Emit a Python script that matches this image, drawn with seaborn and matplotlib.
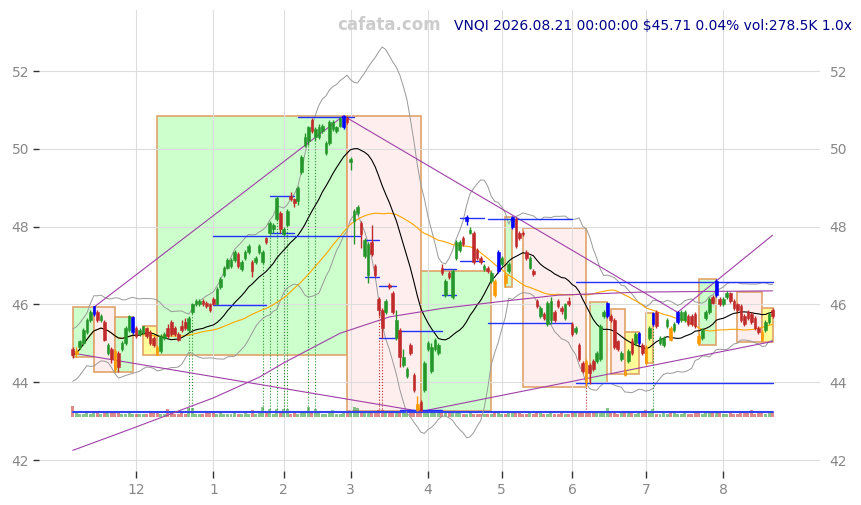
import matplotlib
matplotlib.use("Agg")
import matplotlib.pyplot as plt
from matplotlib.patches import Rectangle
import seaborn as sns
import numpy as np
import pandas as pd

# daily bars, VNQI, Nov 2025 - Aug 21 2026 (bar index = trading day)
opens = [44.85, 44.72, 44.90, 45.00, 45.30, 45.60, 45.75, 45.80, 45.60, 45.55,
         44.75, 44.85, 44.80, 44.75, 44.85, 45.00, 45.35, 45.30, 45.40, 45.25,
         45.30, 45.40, 45.30, 45.15, 44.90, 44.80, 45.15, 45.40, 45.55, 45.40,
         45.25, 45.45, 45.55, 45.35, 45.80, 46.00, 46.00, 46.10, 46.05, 46.00,
         46.15, 46.00, 46.45, 46.75, 46.95, 47.00, 47.15, 47.30, 46.90, 47.20,
         47.35, 47.10, 47.10, 47.35, 47.10, 47.72, 47.85, 47.95, 48.20, 48.35,
         47.80, 48.05, 48.80, 48.70, 48.65, 49.40, 50.10, 50.20, 50.75, 50.30,
         50.30, 50.45, 49.90, 50.15, 50.50, 50.45, 50.60, 50.55, 50.80, 49.65,
         48.15, 48.35, 48.10, 47.25, 46.75, 47.60, 47.00, 46.15, 45.85, 45.80,
         46.50, 46.30, 45.15, 45.35, 44.45, 44.15, 44.95, 44.20, 43.45, 43.50,
         43.80, 44.85, 44.30, 44.85, 44.75, 46.95, 46.25, 46.80, 46.20, 47.20,
         47.40, 47.70, 48.15, 47.85, 47.85, 47.40, 47.20, 46.90, 46.95, 46.60,
         46.60, 46.85, 47.05, 46.75, 46.85, 48.00, 48.20, 47.85, 47.85, 47.35,
         46.95, 46.85, 46.10, 45.70, 45.75, 45.50, 45.60, 45.80, 46.10, 45.90,
         45.65, 46.10, 45.50, 45.30, 44.95, 44.50, 44.55, 44.45, 44.55, 44.55,
         44.60, 45.70, 45.70, 45.70, 45.60, 45.05, 44.60, 44.30, 44.55, 45.05,
         45.00, 45.00, 44.95, 44.90, 45.15, 45.50, 45.80, 45.00, 44.95, 45.45,
         45.40, 45.35, 45.55, 45.60, 45.60, 45.70, 45.70, 45.75, 45.20, 45.15,
         45.65, 45.80, 46.20, 46.25, 46.15, 46.00, 46.20, 46.30, 46.10, 46.00,
         45.95, 45.70, 45.80, 45.75, 45.65, 45.40, 45.30, 45.35, 45.55, 45.85]
closes = [44.70, 44.80, 45.05, 45.35, 45.60, 45.80, 45.95, 45.60, 45.70, 45.10,
          44.95, 44.60, 44.35, 44.40, 45.00, 45.40, 45.70, 45.68, 45.20, 45.35,
          45.45, 45.20, 45.00, 44.95, 44.70, 45.20, 45.25, 45.20, 45.25, 45.25,
          45.10, 45.35, 45.40, 45.65, 46.00, 46.10, 46.10, 46.00, 45.95, 45.85,
          46.00, 46.40, 46.65, 46.95, 47.15, 47.15, 47.35, 47.00, 47.10, 47.35,
          47.50, 46.85, 47.20, 47.50, 47.35, 47.60, 48.10, 48.05, 48.75, 47.95,
          47.95, 48.40, 48.70, 48.60, 49.00, 49.80, 50.30, 50.55, 50.45, 50.50,
          50.55, 50.60, 50.15, 50.70, 50.70, 50.55, 50.80, 50.85, 50.70, 49.75,
          48.40, 48.50, 47.80, 47.65, 47.55, 47.30, 46.75, 45.85, 45.40, 46.10,
          46.45, 45.80, 45.60, 44.65, 44.65, 44.35, 44.75, 43.80, 43.30, 43.30,
          44.50, 45.00, 44.90, 45.10, 44.95, 46.80, 46.60, 46.70, 46.85, 47.60,
          47.60, 47.55, 48.25, 47.92, 47.10, 47.20, 47.10, 47.00, 46.85, 46.80,
          46.25, 47.35, 47.20, 46.55, 47.05, 48.25, 47.50, 47.70, 47.80, 47.20,
          47.20, 46.78, 45.95, 45.90, 45.65, 46.05, 46.10, 45.60, 45.95, 45.82,
          46.00, 46.00, 45.25, 45.40, 44.60, 44.30, 44.00, 44.25, 44.35, 44.75,
          45.45, 45.80, 46.05, 45.60, 44.90, 44.85, 44.75, 44.20, 44.80, 44.75,
          45.25, 45.27, 44.75, 44.50, 45.40, 45.78, 45.45, 45.15, 45.15, 45.60,
          45.10, 45.50, 45.80, 45.80, 45.80, 45.50, 45.50, 45.45, 45.00, 45.35,
          45.80, 46.15, 46.05, 46.60, 46.00, 46.15, 46.30, 46.10, 45.90, 45.85,
          45.60, 45.50, 45.65, 45.55, 45.40, 45.30, 45.10, 45.55, 45.75, 45.71]
highs = [44.92, 44.90, 45.10, 45.40, 45.65, 45.85, 45.95, 45.85, 45.75, 45.60,
         45.00, 44.90, 44.85, 44.80, 45.05, 45.45, 45.72, 45.70, 45.45, 45.40,
         45.45, 45.42, 45.35, 45.20, 44.95, 45.25, 45.30, 45.50, 45.60, 45.45,
         45.30, 45.60, 45.65, 45.70, 46.05, 46.15, 46.15, 46.15, 46.10, 46.05,
         46.20, 46.45, 46.70, 47.00, 47.20, 47.20, 47.40, 47.35, 47.15, 47.40,
         47.55, 47.15, 47.25, 47.55, 47.40, 47.73, 48.15, 48.10, 48.78, 48.40,
         48.00, 48.45, 48.90, 48.75, 49.05, 49.85, 50.40, 50.60, 50.80, 50.55,
         50.65, 50.65, 50.20, 50.75, 50.75, 50.60, 50.82, 50.88, 50.85, 49.80,
         48.45, 48.55, 48.15, 47.70, 47.60, 48.05, 47.05, 46.20, 45.90, 46.15,
         46.55, 46.35, 45.85, 45.40, 44.85, 44.40, 45.00, 44.25, 43.65, 43.55,
         44.55, 45.05, 45.00, 45.15, 45.00, 47.05, 46.65, 46.85, 46.90, 47.65,
         47.65, 47.75, 48.30, 48.00, 47.90, 47.45, 47.25, 47.05, 47.00, 46.85,
         46.65, 47.40, 47.25, 46.80, 47.10, 48.28, 48.25, 47.90, 47.90, 47.40,
         47.25, 46.90, 46.15, 45.95, 45.80, 46.10, 46.20, 45.85, 46.15, 45.95,
         46.05, 46.20, 45.55, 45.45, 45.00, 44.55, 44.60, 44.50, 44.60, 44.80,
         45.50, 45.85, 46.06, 45.75, 45.65, 45.10, 44.80, 44.35, 44.85, 45.15,
         45.30, 45.29, 45.00, 44.95, 45.45, 45.80, 45.85, 45.20, 45.20, 45.65,
         45.45, 45.55, 45.82, 45.85, 45.85, 45.75, 45.75, 45.80, 45.25, 45.40,
         45.85, 46.20, 46.25, 46.65, 46.20, 46.20, 46.35, 46.32, 46.15, 46.05,
         46.00, 45.75, 45.85, 45.80, 45.70, 45.45, 45.35, 45.60, 45.80, 45.90]
lows = [44.62, 44.65, 44.85, 44.95, 45.25, 45.55, 45.70, 45.55, 45.55, 45.05,
        44.70, 44.50, 44.27, 44.27, 44.80, 44.95, 45.30, 45.25, 45.15, 45.20,
        45.25, 45.15, 44.95, 44.90, 44.70, 44.75, 45.10, 45.15, 45.20, 45.20,
        45.05, 45.30, 45.35, 45.30, 45.75, 45.95, 45.95, 45.95, 45.90, 45.80,
        45.98, 45.98, 46.40, 46.70, 46.90, 46.95, 47.10, 46.95, 46.85, 47.15,
        47.30, 46.70, 47.05, 47.30, 47.05, 47.55, 47.80, 47.85, 48.15, 47.85,
        47.75, 48.00, 48.65, 48.50, 48.55, 49.35, 50.05, 50.10, 50.40, 50.20,
        50.25, 50.40, 49.85, 50.10, 50.45, 50.40, 50.55, 50.50, 50.65, 49.45,
        47.55, 48.30, 47.45, 47.20, 46.55, 47.25, 46.70, 45.70, 45.15, 45.75,
        46.40, 45.75, 45.10, 44.40, 44.40, 44.10, 44.70, 43.75, 43.25, 43.25,
        43.75, 44.80, 44.25, 44.80, 44.70, 46.75, 46.20, 46.65, 46.15, 47.15,
        47.35, 47.50, 48.05, 47.80, 47.05, 47.15, 47.05, 46.85, 46.80, 46.55,
        46.20, 46.80, 47.00, 46.45, 46.80, 47.95, 47.45, 47.65, 47.75, 47.15,
        46.90, 46.72, 45.90, 45.65, 45.60, 45.45, 45.50, 45.55, 45.90, 45.75,
        45.60, 45.95, 45.20, 45.25, 44.55, 44.25, 43.90, 43.95, 44.30, 44.50,
        44.55, 45.65, 45.65, 45.55, 44.85, 44.80, 44.55, 44.15, 44.50, 44.70,
        44.95, 44.95, 44.70, 44.45, 45.10, 45.45, 45.40, 44.95, 44.90, 45.40,
        45.05, 45.30, 45.50, 45.55, 45.55, 45.45, 45.45, 45.40, 44.95, 45.10,
        45.60, 45.75, 46.00, 46.20, 45.95, 45.95, 46.15, 46.05, 45.85, 45.80,
        45.55, 45.45, 45.60, 45.50, 45.35, 45.25, 45.05, 45.30, 45.50, 45.65]
volumes = [900, 260, 240, 250, 280, 230, 260, 300, 250, 280, 260, 300, 320, 290, 250, 240, 260, 230, 250, 240,
           230, 250, 270, 260, 280, 240, 230, 650, 260, 250, 240, 260, 250, 700, 680, 250, 240, 230, 260, 280,
           300, 250, 260, 240, 250, 230, 260, 240, 250, 260, 240, 520, 250, 260, 750, 260, 620, 250, 640, 260,
           600, 620, 250, 260, 240, 280, 260, 800, 300, 640, 260, 250, 240, 260, 560, 250, 240, 260, 300, 320,
           750, 720, 300, 320, 300, 280, 300, 500, 520, 300, 280, 300, 320, 300, 280, 300, 320, 350, 900, 700,
           380, 320, 300, 280, 300, 320, 280, 400, 300, 280, 260, 250, 240, 260, 250, 240, 230, 250, 240, 230,
           260, 280, 250, 240, 260, 280, 270, 260, 250, 240, 260, 250, 270, 260, 240, 250, 260, 240, 250, 260,
           240, 250, 280, 260, 270, 300, 420, 280, 270, 300, 320, 280, 700, 260, 270, 250, 260, 280, 270, 260,
           250, 260, 270, 520, 260, 600, 250, 240, 260, 250, 270, 260, 250, 240, 260, 250, 240, 260, 270, 250,
           260, 280, 270, 290, 260, 250, 240, 260, 250, 240, 260, 270, 260, 520, 250, 260, 270, 250, 260, 279]

blue_bars = [6, 17, 77, 112, 121, 125, 152, 161, 165, 172, 183]
orange_bars = [1, 12, 24, 98, 120, 123, 146, 157, 163, 170, 178, 196]
green_marks = [33, 34, 54, 56, 58, 60, 61, 67, 69, 165]
red_marks = [87, 88, 146]

month_idx = [18, 40, 60, 79, 101, 122, 142, 163, 185]
month_lbl = ['12', '1', '2', '3', '4', '5', '6', '7', '8']

# long moving average (starts before the visible window)
ma200_idx = [0, 15, 40, 53, 60, 76, 90, 105, 122, 138, 162, 199]
ma200_val = [42.25, 42.75, 43.6, 44.13, 44.5, 45.26, 45.68, 45.9, 46.08, 46.24, 46.32, 46.35]

# trend lines through pivots: (i0, p0, i1, p1)
trend_lines = [(6, 45.93, 77, 50.85), (77, 50.85, 172, 45.8), (172, 45.8, 199, 47.78),
               (0, 44.75, 99, 43.25), (99, 43.25, 199, 45.05)]

# swing boxes: (i0, i1, low, high, kind)
boxes = [(0, 6, 44.65, 45.93, 'g'), (6, 12, 44.27, 45.93, 'p'), (12, 17, 44.27, 45.68, 'g'),
         (20, 24, 44.70, 45.44, 'y'), (24, 78, 44.70, 50.85, 'g'), (78, 99, 43.25, 50.85, 'p'),
         (99, 119, 43.25, 46.86, 'g'), (123, 125, 46.45, 48.25, 'g'), (128, 146, 43.88, 47.96, 'p'),
         (147, 152, 43.98, 46.06, 'g'), (153, 157, 44.21, 45.88, 'p'), (157, 161, 44.21, 45.29, 'y'),
         (163, 165, 44.50, 45.78, 'y'), (178, 183, 44.95, 46.65, 'g'), (189, 196, 45.03, 46.32, 'p'),
         (196, 199, 45.03, 45.90, 'y')]

# support / resistance segments: (i0, i1, price)
levels = [(40, 55, 45.98), (40, 82, 47.75), (56, 63, 48.79), (56, 63, 47.85), (64, 80, 50.82),
          (83, 87, 47.65), (83, 87, 46.7), (87, 92, 46.47), (87, 92, 45.13),
          (93, 105, 45.32), (93, 105, 43.3), (105, 109, 46.9), (105, 109, 46.25),
          (110, 117, 48.22), (110, 117, 47.12), (118, 142, 48.2), (118, 142, 45.52),
          (143, 199, 46.57), (143, 199, 43.98)]

UP = '#24962a'
DOWN = '#c02a2a'
box_fill = {'g': '#ccffcc', 'p': '#ffeeee', 'y': '#ffff99'}

sns.set_theme(style="whitegrid", rc={"grid.color": "#dddddd", "grid.linewidth": 0.8})
plt.rcParams['font.family'] = ['DejaVu Sans']

df = pd.DataFrame({'o': opens, 'h': highs, 'l': lows, 'c': closes, 'v': volumes})
df['i'] = np.arange(len(df))
df['ma20'] = df.c.rolling(20, min_periods=1).mean()
df['ma50'] = df.c.rolling(50, min_periods=1).mean()
sd = df.c.rolling(20, min_periods=5).std(ddof=0).bfill()
df['bb_up'] = df.ma20 + 2 * sd
df['bb_lo'] = df.ma20 - 2 * sd

fig = plt.figure(figsize=(8.62, 5.05), dpi=100)
ax = fig.add_axes([39 / 862, 34 / 505, 781 / 862, 461 / 505])
ax.set_axisbelow(True)

for i0, i1, lo, hi, k in boxes:
    ax.add_patch(Rectangle((i0, lo), i1 - i0, hi - lo, facecolor=box_fill[k],
                           edgecolor='#e0a36a', lw=1.2, zorder=0.3))

# volume strip along the bottom
vcol = np.where(df.c >= df.o, UP, DOWN)
ax.bar(df.i, df.v / 900 * 0.28, bottom=43.12, width=0.85, color=vcol,
       alpha=0.55, linewidth=0, zorder=1)
ax.plot([0, 199], [43.23, 43.23], color='#3344ee', lw=1.5, zorder=1.5)

for i in green_marks:
    ax.vlines(i, 43.23, lows[i], colors=UP, linestyles=':', lw=0.8, zorder=1.2)
for i in red_marks:
    ax.vlines(i, 43.23, lows[i], colors=DOWN, linestyles=':', lw=0.8, zorder=1.2)

sns.lineplot(data=df, x='i', y='bb_up', ax=ax, color='#999999', lw=0.7, zorder=2)
sns.lineplot(data=df, x='i', y='bb_lo', ax=ax, color='#999999', lw=0.7, zorder=2)
sns.lineplot(data=df, x='i', y='ma50', ax=ax, color='#ffa500', lw=0.8, zorder=2)
sns.lineplot(data=df, x='i', y='ma20', ax=ax, color='black', lw=0.8, zorder=2)
sns.lineplot(x=ma200_idx, y=ma200_val, ax=ax, color='#a040a8', lw=0.8, zorder=2)

for i0, p0, i1, p1 in trend_lines:
    ax.plot([i0, i1], [p0, p1], color='#a040a8', lw=0.8, zorder=2)
for i0, i1, p in levels:
    ax.plot([i0, i1], [p, p], color='#2233ff', lw=1.0, zorder=2.5)

# candles
ccol = list(np.where(df.c >= df.o, UP, DOWN))
for i in blue_bars:
    ccol[i] = '#0000ff'
for i in orange_bars:
    ccol[i] = '#ff9900'
body_lo = np.minimum(df.o, df.c)
body_h = np.maximum(np.abs(df.c - df.o), 0.03)
ax.vlines(df.i, df.l, df.h, colors=ccol, lw=1.0, zorder=3)
ax.bar(df.i, body_h, bottom=body_lo, width=0.75, color=ccol, edgecolor=ccol,
       linewidth=0.4, zorder=3.5)

ax.set_xlim(-9.6, 212.5)
ax.set_ylim(41.72, 53.57)
ax.set_yticks([42, 44, 46, 48, 50, 52])
ax.set_xticks(month_idx)
ax.set_xticklabels(month_lbl)
ax.set_xlabel('')
ax.set_ylabel('')
for s in ax.spines.values():
    s.set_visible(False)
ax.tick_params(axis='y', left=True, right=False, labelleft=True, labelright=True,
               length=4, width=1, color='#333333', labelcolor='#888888', labelsize=10, pad=3)
ax.tick_params(axis='x', bottom=True, length=5, width=1, color='#333333',
               labelcolor='#888888', labelsize=10, pad=4)

fig.text(389 / 862, 1 - 25 / 505, 'cafata.com', color='#cccccc', fontsize=12,
         fontweight='bold', ha='center', va='center')
fig.text(852 / 862, 1 - 26 / 505, 'VNQI 2026.08.21 00:00:00 $45.71 0.04% vol:278.5K 1.0x',
         color='#000088', fontsize=10, ha='right', va='center')

fig.savefig('out.png', dpi=100)
